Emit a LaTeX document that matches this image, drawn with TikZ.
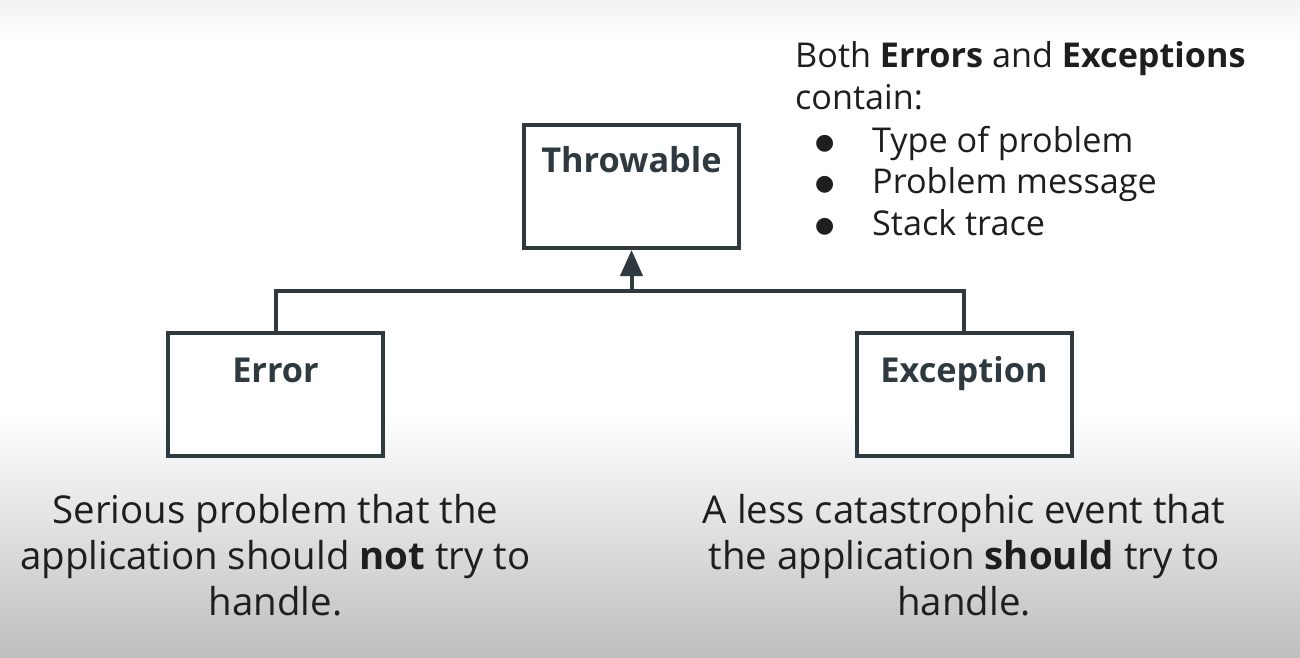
\documentclass[tikz,border=0pt]{standalone}
\usepackage{fontspec}
\setmainfont{Open Sans}
\newfontfamily\symfont{DejaVu Sans}
\usetikzlibrary{arrows.meta}
\definecolor{boxc}{HTML}{2E3A40}
\definecolor{txt}{HTML}{1E1E1E}
\definecolor{bgbot}{HTML}{BEBEBE}
\definecolor{bgtop}{HTML}{F2F2F2}
\newcommand{\bul}{\makebox[57pt][l]{\raisebox{3pt}{\symfont\fontsize{22}{22}\selectfont ●}}}
\tikzset{
  classbox/.style={draw=boxc, line width=4pt, fill=white, minimum width=215pt, minimum height=123pt, inner sep=0pt},
  classname/.style={text=boxc, font=\fontsize{34.3}{40}\selectfont\bfseries, anchor=base},
  link/.style={draw=boxc, line width=4pt},
  desc/.style={text=txt, font=\fontsize{38.4}{46}\selectfont, align=center, anchor=base},
  note/.style={text=txt, font=\fontsize{34.2}{41.5}\selectfont, anchor=base west, inner sep=0pt}
}
\begin{document}
\begin{tikzpicture}[x=1pt,y=-1pt]
\useasboundingbox (0,0) rectangle (1300,658);
\fill[white] (0,0) rectangle (1300,658);
\shade[top color=bgtop, bottom color=white] (0,0) rectangle (1300,40);
\shade[top color=white, bottom color=bgbot] (0,415) rectangle (1300,658);
% boxes
\node[classbox] (thr) at (631.5,186.5) {};
\node[classbox] (err) at (275.5,394.5) {};
\node[classbox] (exc) at (964,394.5) {};
\node[classname] (thrl) at (631.5,172) {Throwable};
\node[classname] (errl) at (275.5,382) {Error};
\node[classname] (excl) at (964,382) {Exception};
% connectors
\coordinate (j) at (631.5,291);
\draw[link] (err.north) |- (j) -| (exc.north);
\draw[link, -{Triangle[length=26pt,width=22pt]}] (j) -- (thr.south);
% note
\node[note] (n1) at (795,68) {Both \textbf{Errors} and \textbf{Exceptions}};
\node[note] (n2) at (795,110) {contain:};
\node[note] (b1) at (815,152) {\bul Type of problem};
\node[note] (b2) at (815,193.5) {\bul Problem message};
\node[note] (b3) at (815,235) {\bul Stack trace};
% descriptions
\node[desc] (d1) at (275.5,615) {Serious problem that the\\application should \textbf{not} try to\\handle.};
\node[desc] (d2) at (964,615) {A less catastrophic event that\\the application \textbf{should} try to\\handle.};
\end{tikzpicture}
\end{document}
